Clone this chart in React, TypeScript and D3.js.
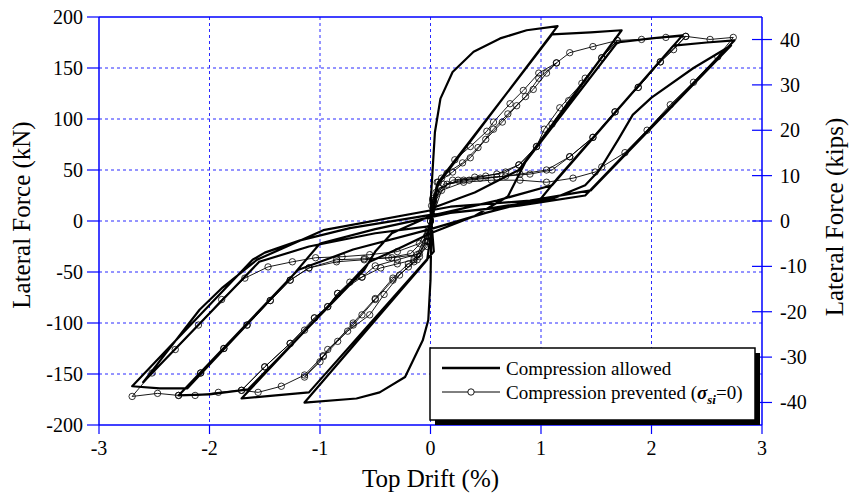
import React from "react";
import * as d3 from "d3";

// axis ticks
const driftTicks = [-3, -2, -1, 0, 1, 2, 3];
const kNTicks = [-200, -150, -100, -50, 0, 50, 100, 150, 200];
const kipTicks = [-40, -30, -20, -10, 0, 10, 20, 30, 40];
const KN_PER_KIP = 4.448;

// Compression allowed: [drift %, force kN], read cycle by cycle
const allowedCycle1: [number, number][] = [
  [0, 0], [0.005, 25], [0.04, 87], [0.09, 120], [0.2, 146], [0.39, 166], [0.63, 179], [0.87, 187], [1.15, 191],
  [0.06, 35], [0.01, 5], [0, -58], [-0.02, -97], [-0.07, -117], [-0.23, -153], [-0.46, -168], [-0.67, -174], [-1.14, -178],
  [-0.03, -38], [0, -15],
];
const allowedCycle2: [number, number][] = [
  [0.03, 12], [0.07, 38], [1.1, 183], [1.45, 185], [1.73, 187],
  [0.8, 50], [0.4, 28], [0, 12], [0.03, -30], [-1.1, -168], [-1.4, -171], [-1.71, -174],
  [-0.55, -40], [-0.25, -25], [0, -12],
];
const allowedCycle3: [number, number][] = [
  [0.4, 5], [0.7, 24], [0.86, 58], [1.69, 175], [2.0, 179], [2.28, 182],
  [1.1, 35], [0.6, 20], [0, 5], [-0.35, -12], [-0.5, -30], [-0.6, -48], [-1.65, -165], [-2.0, -170], [-2.28, -171],
  [-1.2, -48], [-0.7, -28], [0, -8],
];
const allowedCycle4: [number, number][] = [
  [0.5, 8], [1.0, 22], [1.15, 42], [2.2, 172], [2.5, 175], [2.75, 177],
  [1.4, 25], [0.8, 15], [0.18, 8], [-0.5, -8], [-1.0, -22], [-1.26, -55], [-2.2, -164], [-2.45, -164], [-2.7, -162],
  [-1.61, -38], [-1.5, -31], [-1.18, -19], [-0.73, -7], [0, 6],
];
const allowedCycle5: [number, number][] = [
  [0.51, 12], [1.11, 22], [1.4, 35], [1.53, 50], [1.7, 80], [1.83, 104], [2.0, 121], [2.38, 150], [2.72, 172],
  [1.45, 30], [0.9, 20], [0.18, 14], [-0.97, -9], [-1.57, -38], [-1.88, -65], [-2.09, -87], [-2.47, -140], [-2.6, -158],
  [-1.55, -40], [-1.1, -25], [-0.5, -12], [0, -5],
];

// Compression prevented (sigma_si = 0): [drift %, force kN]
const preventedCycle1: [number, number][] = [
  [0, 0], [0.02, 22], [0.1, 42], [0.22, 60], [0.36, 73], [0.51, 88], [0.57, 97], [0.72, 115], [0.84, 128], [0.98, 145], [1.14, 155],
  [1.05, 145], [0.93, 129], [0.78, 113], [0.65, 97], [0.5, 80], [0.36, 62], [0.2, 48], [0.07, 38], [0.01, 15],
  [-0.02, -20], [-0.12, -38], [-0.2, -45], [-0.34, -58], [-0.5, -77], [-0.62, -92], [-0.7, -102], [-0.84, -118], [-0.97, -133], [-1.14, -153],
  [-1.0, -138], [-0.93, -126], [-0.75, -108], [-0.55, -92], [-0.42, -72], [-0.28, -53], [-0.15, -40], [-0.03, -25],
];
const preventedCycle2: [number, number][] = [
  [0.02, 20], [0.06, 38], [0.15, 47], [0.29, 57], [0.43, 72], [0.57, 90], [0.7, 105], [0.86, 122], [0.98, 140], [1.14, 155], [1.26, 165], [1.47, 171], [1.69, 177],
  [1.55, 160], [1.37, 135], [1.17, 111], [1.03, 90], [0.96, 73], [0.8, 55], [0.6, 46], [0.4, 43], [0.2, 40], [0.05, 28],
  [-0.03, -15], [-0.1, -35], [-0.2, -42], [-0.34, -56], [-0.5, -76], [-0.7, -100], [-0.97, -132], [-1.14, -151], [-1.35, -162], [-1.56, -168], [-1.71, -166],
  [-1.5, -143], [-1.27, -120], [-1.14, -107], [-1.05, -95], [-0.93, -84], [-0.84, -71], [-0.73, -60], [-0.62, -55], [-0.45, -46], [-0.3, -42], [-0.15, -38], [-0.03, -20],
];
const preventedCycle3: [number, number][] = [
  [0.03, 20], [0.12, 36], [0.3, 40], [0.5, 44], [0.68, 48], [0.8, 55], [0.96, 73], [1.1, 95], [1.25, 118], [1.4, 140], [1.55, 160], [1.69, 177], [1.91, 178], [2.13, 180], [2.31, 181],
  [2.2, 168], [2.08, 156], [1.88, 131], [1.67, 107], [1.47, 82], [1.26, 63], [1.1, 50], [0.9, 46], [0.68, 44], [0.45, 42], [0.25, 40], [0.08, 32],
  [-0.02, -10], [-0.1, -32], [-0.3, -38], [-0.5, -44], [-0.62, -55], [-0.84, -71], [-0.93, -84], [-1.05, -95], [-1.27, -120], [-1.5, -143], [-1.71, -166], [-1.92, -168], [-2.13, -171], [-2.28, -171],
  [-2.08, -149], [-1.87, -125], [-1.66, -102], [-1.45, -78], [-1.27, -58], [-1.1, -46], [-0.85, -40], [-0.6, -38], [-0.38, -36], [-0.18, -32], [-0.03, -15],
];
const preventedCycle4: [number, number][] = [
  [0.03, 18], [0.15, 36], [0.35, 40], [0.6, 43], [0.81, 46], [1.05, 50], [1.26, 63], [1.47, 82], [1.67, 107], [1.88, 131], [2.08, 156], [2.31, 181], [2.53, 178], [2.74, 180],
  [2.6, 161], [2.38, 136], [2.17, 114], [1.96, 89], [1.76, 67], [1.55, 53], [1.49, 48], [1.29, 42], [1.05, 38], [0.81, 40], [0.55, 40], [0.3, 38], [0.1, 30],
  [-0.02, -8], [-0.12, -33], [-0.35, -36], [-0.6, -37], [-0.85, -38], [-1.1, -46], [-1.27, -58], [-1.45, -78], [-1.66, -102], [-1.87, -125], [-2.08, -149], [-2.28, -171], [-2.47, -169], [-2.7, -172],
  [-2.52, -149], [-2.31, -126], [-2.1, -102], [-1.89, -77], [-1.68, -56], [-1.47, -45], [-1.25, -40], [-1.04, -36], [-0.8, -35], [-0.55, -33], [-0.3, -30], [-0.1, -22], [0, 0],
];

const allowed = [...allowedCycle1, ...allowedCycle2, ...allowedCycle3, ...allowedCycle4, ...allowedCycle5];
const prevented = [...preventedCycle1, ...preventedCycle2, ...preventedCycle3, ...preventedCycle4];

export default function App() {
  const W = 855, H = 495;
  const left = 99, right = 762, top = 17, bottom = 425;
  const blue = "#0000ff";
  const grid = "#2a2aff";
  const font = "'Liberation Serif', 'Times New Roman', serif";

  const x = d3.scaleLinear().domain([-3, 3]).range([left, right]);
  const y = d3.scaleLinear().domain([-200, 200]).range([bottom, top]);
  const yKip = d3.scaleLinear().domain([-200 / KN_PER_KIP, 200 / KN_PER_KIP]).range([bottom, top]);

  const lineGen = d3.line<[number, number]>().x((d) => x(d[0])).y((d) => y(d[1]));

  return (
    <svg width={W} height={H} style={{ position: "absolute", left: 0, top: 0, background: "#fff" }} fontFamily={font}>
      {/* grid */}
      {kNTicks.filter((t) => t > -200 && t < 200).map((t) => (
        <line key={"gy" + t} x1={left} x2={right} y1={y(t)} y2={y(t)} stroke={grid} strokeWidth={1} strokeDasharray="3,3" />
      ))}
      {driftTicks.filter((t) => t > -3 && t < 3).map((t) => (
        <line key={"gx" + t} x1={x(t)} x2={x(t)} y1={top} y2={bottom} stroke={grid} strokeWidth={1} strokeDasharray="3,3" />
      ))}

      {/* series */}
      <path d={lineGen(prevented) || ""} fill="none" stroke="#000" strokeWidth={0.9} strokeLinejoin="round" />
      {prevented.map((d, i) => (
        <circle key={"p" + i} cx={x(d[0])} cy={y(d[1])} r={3.2} fill="none" stroke="#000" strokeWidth={0.8} />
      ))}
      <path d={lineGen(allowed) || ""} fill="none" stroke="#000" strokeWidth={2.2} strokeLinejoin="round" />

      {/* frame */}
      <line x1={left} x2={right} y1={top} y2={top} stroke={blue} strokeWidth={1.5} />
      <line x1={left} x2={right} y1={bottom} y2={bottom} stroke={blue} strokeWidth={1.5} />
      <line x1={left} x2={left} y1={top} y2={bottom} stroke={blue} strokeWidth={1.5} />
      <line x1={right} x2={right} y1={top} y2={bottom} stroke={blue} strokeWidth={1.5} />

      {/* left axis */}
      {kNTicks.map((t) => (
        <g key={"l" + t}>
          <line x1={left - 12} x2={left} y1={y(t)} y2={y(t)} stroke={blue} strokeWidth={1.2} />
          <text x={left - 16} y={y(t)} dy="0.35em" textAnchor="end" fontSize={20} fill="#000">{t}</text>
        </g>
      ))}
      {/* bottom axis */}
      {driftTicks.map((t) => (
        <g key={"b" + t}>
          <line x1={x(t)} x2={x(t)} y1={bottom} y2={bottom + 9} stroke={blue} strokeWidth={1.2} />
          <text x={x(t)} y={bottom + 30} textAnchor="middle" fontSize={20} fill="#000">{t}</text>
        </g>
      ))}
      {/* right axis in kips */}
      {kipTicks.map((t) => (
        <g key={"r" + t}>
          <line x1={right - 10} x2={right + 10} y1={yKip(t)} y2={yKip(t)} stroke={blue} strokeWidth={1.2} />
          <text x={right + 18} y={yKip(t)} dy="0.35em" textAnchor="start" fontSize={20} fill="#000">{t}</text>
        </g>
      ))}

      {/* titles */}
      <text x={(left + right) / 2} y={487} textAnchor="middle" fontSize={25} fill="#000">Top Drift (%)</text>
      <text transform={`translate(30,${(top + bottom) / 2 - 6}) rotate(-90)`} textAnchor="middle" fontSize={25} fill="#000">Lateral Force (kN)</text>
      <text transform={`translate(843,${(top + bottom) / 2 - 4}) rotate(-90)`} textAnchor="middle" fontSize={25} fill="#000">Lateral Force (kips)</text>

      {/* legend */}
      <rect x={435} y={353} width={325} height={72} fill="#000" />
      <rect x={430} y={348} width={325} height={72} fill="#fff" stroke="#000" strokeWidth={1.5} />
      <line x1={442} x2={500} y1={368} y2={368} stroke="#000" strokeWidth={2.5} />
      <text x={506} y={375} fontSize={19} fill="#000">Compression allowed</text>
      <line x1={442} x2={500} y1={392} y2={392} stroke="#000" strokeWidth={1} />
      <circle cx={471} cy={392} r={3.2} fill="#fff" stroke="#000" strokeWidth={0.9} />
      <text x={506} y={399} fontSize={19} fill="#000">
        Compression prevented (
        <tspan fontWeight="bold" fontStyle="italic">σ</tspan>
        <tspan fontWeight="bold" fontStyle="italic" fontSize={13} dy={5}>si</tspan>
        <tspan dy={-5}>=0)</tspan>
      </text>
    </svg>
  );
}
